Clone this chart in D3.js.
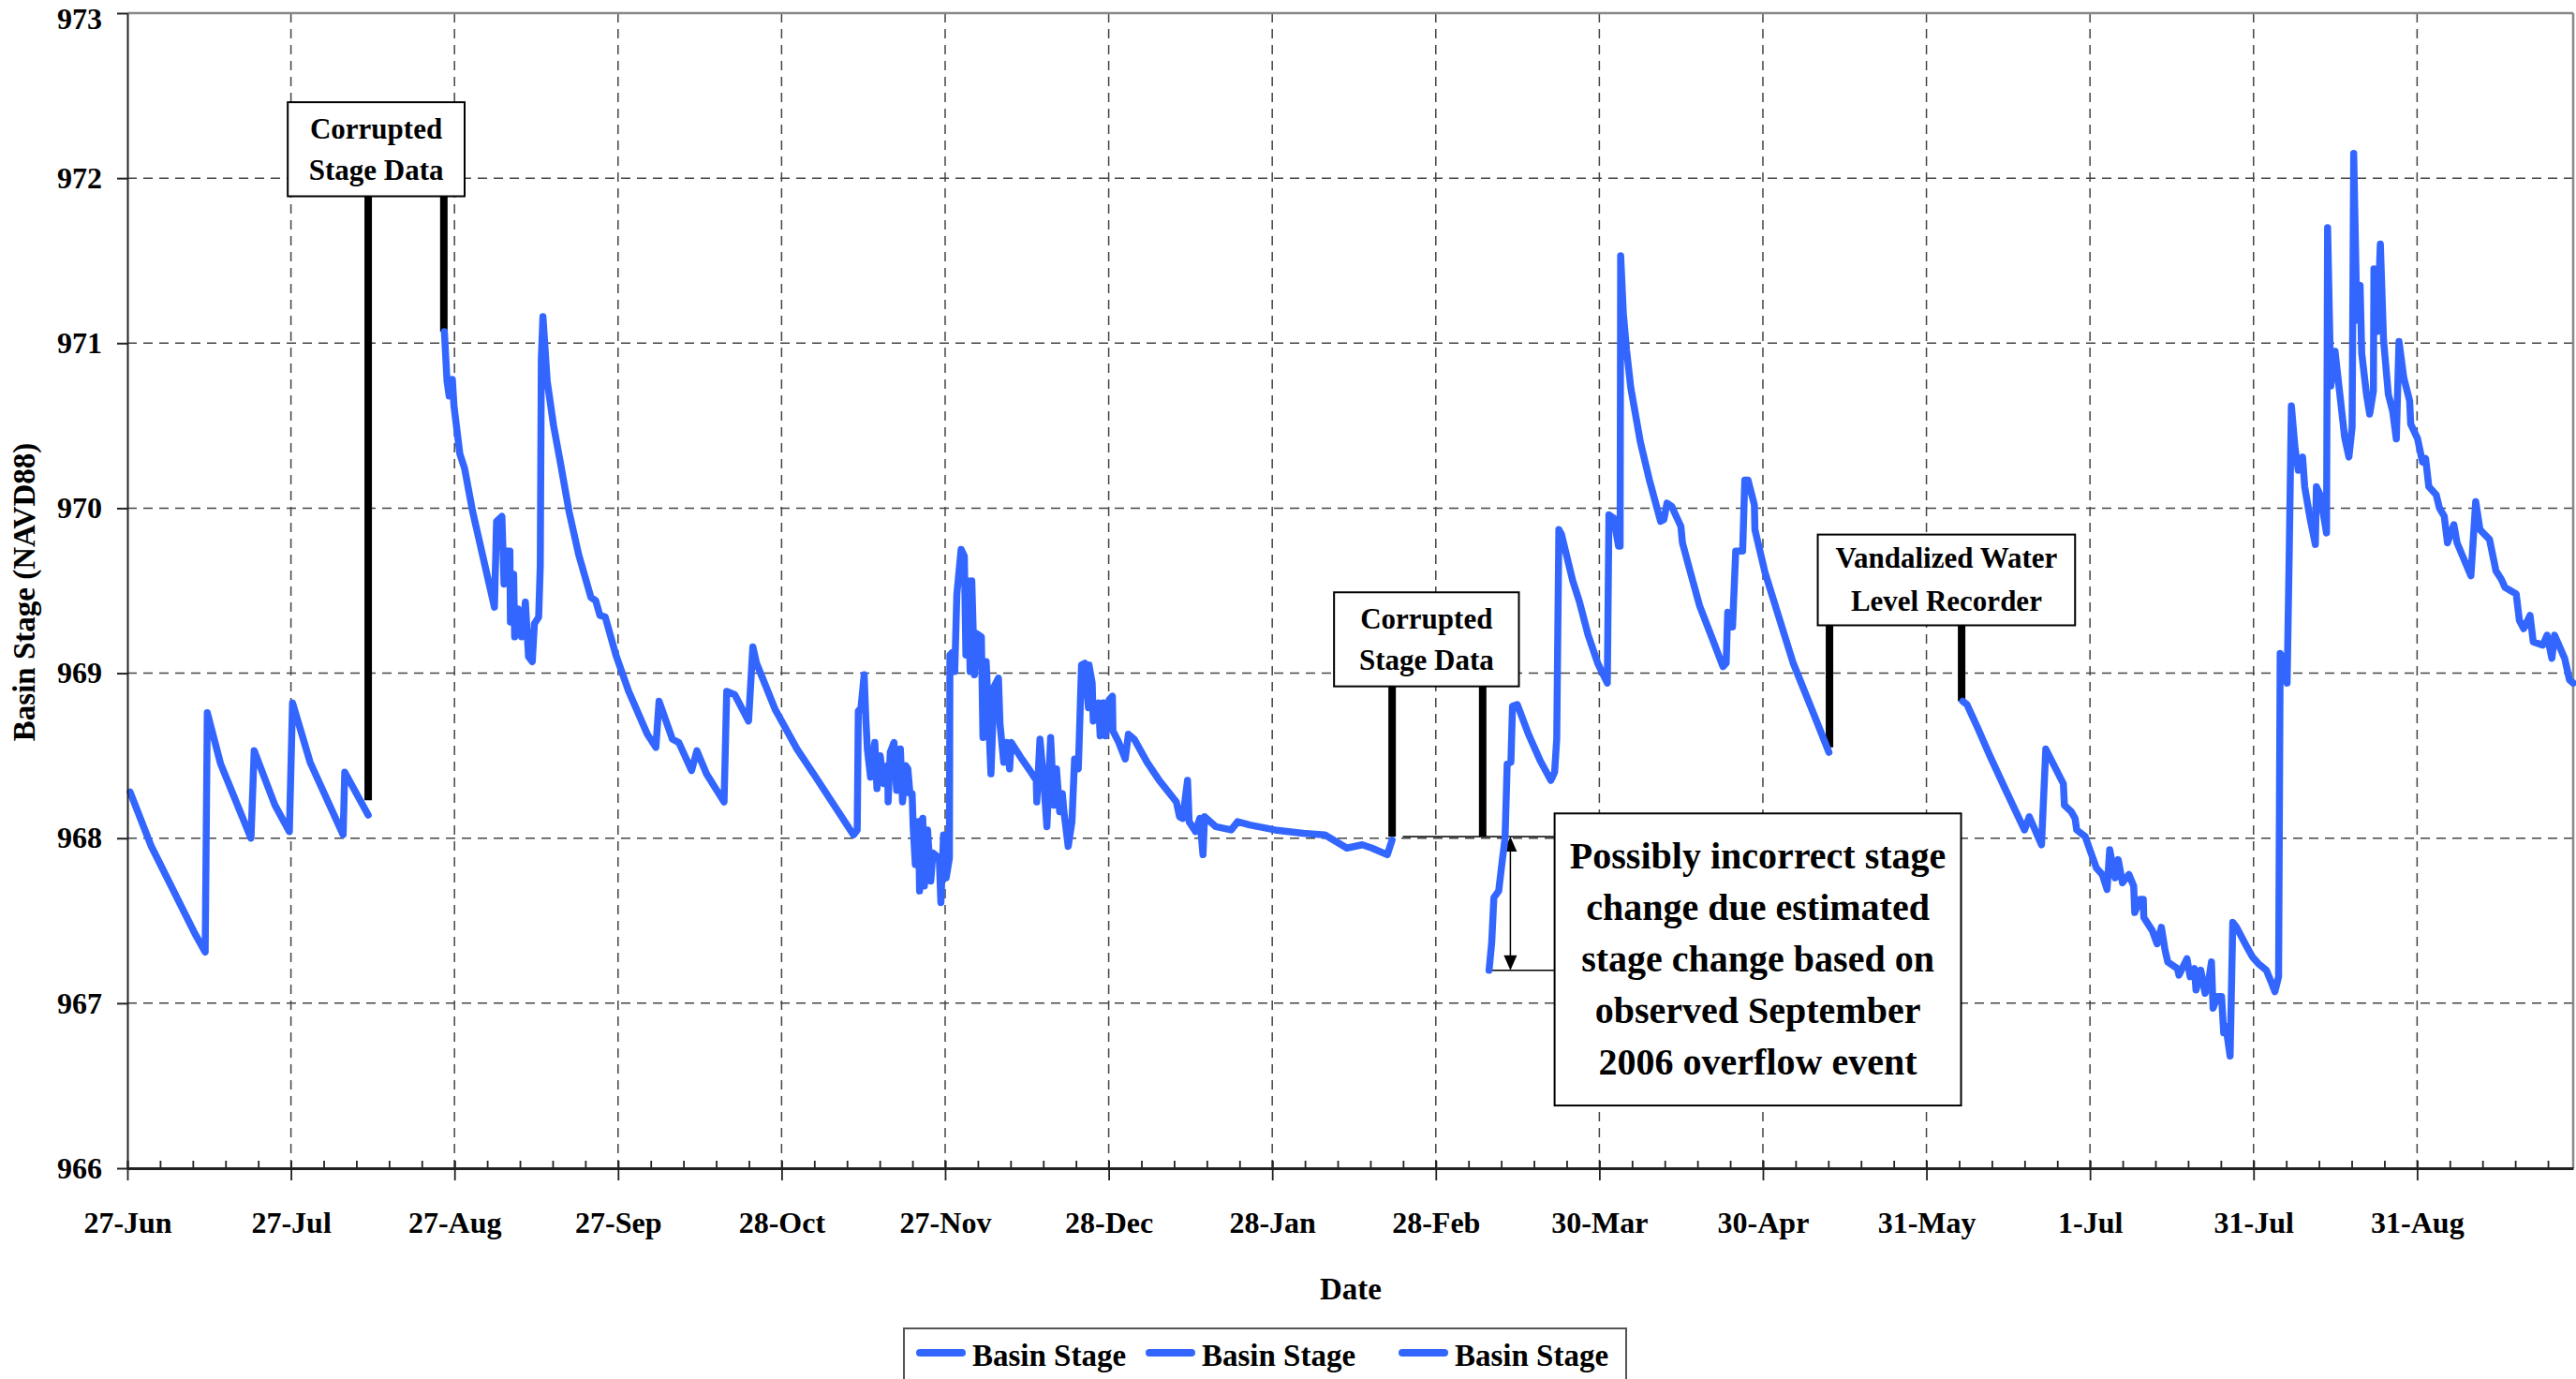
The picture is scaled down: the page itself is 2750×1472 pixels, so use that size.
<!DOCTYPE html>
<html>
<head>
<meta charset="utf-8">
<script src="https://cdn.jsdelivr.net/npm/d3@7"></script>
<style>
  body { margin: 0; background: #fff; }
  svg text { font-family: "Liberation Serif", "Times New Roman", serif; font-weight: bold; fill: #000; }
</style>
</head>
<body>
<div id="chart"></div>
<script>
// x values are days after 27-Jun-2006, y values are basin stage (ft, NAVD88)
var tickStep = 30.7;
var dayMax = 459.1;
var tickLabels = ['27-Jun', '27-Jul', '27-Aug', '27-Sep', '28-Oct', '27-Nov', '28-Dec', '28-Jan',
                  '28-Feb', '30-Mar', '30-Apr', '31-May', '1-Jul', '31-Jul', '31-Aug'];
var stageTicks = [966, 967, 968, 969, 970, 971, 972, 973];
var legendLabels = ['Basin Stage', 'Basin Stage', 'Basin Stage'];

var stage1 = [[0.5, 968.28], [4.5, 967.95], [12.7, 967.42], [14.6, 967.31], [15.0, 968.76], [17.5, 968.45],
  [23.2, 968.00], [23.8, 968.53], [27.7, 968.20], [30.4, 968.04], [31.0, 968.82], [34.3, 968.46],
  [40.5, 968.02], [40.8, 968.40], [45.2, 968.14]];

var stage2 = [[59.5, 971.07], [60.0, 970.77], [60.4, 970.68], [61.0, 970.78], [61.3, 970.62], [62.4, 970.33],
  [63.3, 970.24], [64.8, 969.98], [68.9, 969.40], [69.3, 969.92], [70.3, 969.95], [70.7, 969.54],
  [71.1, 969.74], [71.8, 969.74], [71.9, 969.31], [72.5, 969.60], [72.7, 969.22], [73.3, 969.39],
  [74.0, 969.22], [74.7, 969.43], [75.3, 969.10], [76.0, 969.07], [76.4, 969.30], [77.2, 969.34],
  [77.5, 969.65], [77.7, 970.90], [78.0, 971.16], [78.8, 970.77], [80.0, 970.50], [81.2, 970.29],
  [82.9, 969.98], [84.7, 969.72], [87.0, 969.46], [87.9, 969.44], [88.7, 969.35], [89.7, 969.34],
  [91.7, 969.11], [94.1, 968.89], [97.6, 968.63], [99.2, 968.55], [99.8, 968.83], [102.3, 968.60],
  [103.5, 968.58], [105.9, 968.41], [106.9, 968.53], [108.7, 968.39], [112.0, 968.22], [112.5, 968.89],
  [114.0, 968.87], [116.6, 968.71], [117.4, 969.16], [118.1, 969.06], [121.6, 968.78], [125.7, 968.54],
  [129.2, 968.37], [136.3, 968.02], [137.0, 968.05], [137.2, 968.77], [137.7, 968.79], [138.3, 968.99],
  [138.6, 968.73], [138.9, 968.54], [139.5, 968.37], [140.3, 968.58], [140.7, 968.30], [141.3, 968.50],
  [142.0, 968.33], [142.7, 968.44], [142.8, 968.22], [143.2, 968.52], [143.9, 968.58], [144.4, 968.29],
  [145.1, 968.54], [145.5, 968.22], [146.1, 968.44], [146.5, 968.42], [146.9, 968.27], [147.3, 968.27],
  [147.5, 968.07], [147.9, 967.84], [148.5, 968.10], [148.7, 967.68], [149.3, 968.12], [149.6, 967.71],
  [150.2, 968.05], [150.8, 967.74], [151.2, 967.91], [152.4, 967.88], [152.7, 967.61], [153.2, 968.02],
  [153.7, 967.76], [154.3, 967.88], [154.4, 969.11], [155.0, 969.13], [155.3, 969.01], [155.7, 969.48],
  [156.5, 969.75], [157.1, 969.71], [157.4, 969.11], [157.8, 969.56], [158.2, 969.01], [158.5, 969.56],
  [159.0, 968.99], [159.4, 969.24], [160.3, 969.22], [160.6, 968.61], [161.2, 969.07], [162.1, 968.39],
  [162.7, 968.92], [163.5, 968.97], [163.8, 968.69], [164.5, 968.46], [165.1, 968.58], [165.6, 968.42],
  [165.9, 968.58], [167.9, 968.48], [169.4, 968.41], [170.6, 968.35], [170.7, 968.22], [171.3, 968.60],
  [172.0, 968.35], [172.6, 968.07], [173.3, 968.61], [173.9, 968.20], [174.4, 968.42], [175.0, 968.16],
  [175.5, 968.27], [175.8, 968.16], [176.6, 967.95], [177.3, 968.10], [177.8, 968.48], [178.5, 968.42],
  [178.8, 968.73], [179.1, 969.05], [179.7, 969.06], [180.4, 968.79], [180.5, 969.05], [181.1, 968.94],
  [181.3, 968.71], [182.3, 968.82], [182.6, 968.62], [183.2, 968.82], [183.6, 968.62], [184.3, 968.84],
  [184.9, 968.86], [185.0, 968.65], [186.1, 968.58], [187.3, 968.48], [187.9, 968.63], [189.0, 968.60],
  [191.4, 968.46], [193.7, 968.35], [196.9, 968.22], [197.5, 968.13], [198.1, 968.12], [199.0, 968.35],
  [199.3, 968.10], [200.5, 968.04], [201.3, 968.12], [201.9, 967.90], [202.2, 968.13], [204.3, 968.07],
  [207.2, 968.05], [208.4, 968.10], [210.7, 968.08], [215.4, 968.05], [220.7, 968.03], [224.8, 968.02],
  [228.9, 967.94], [231.8, 967.96], [233.6, 967.94], [236.5, 967.90], [237.4, 967.99]];

// third series has a gap (null) where the recorder was vandalized
var stage3 = [[255.6, 967.20], [256.1, 967.37], [256.5, 967.64], [257.4, 967.68], [258.1, 967.87],
  [258.6, 968.00], [259.0, 968.45], [259.7, 968.46], [260.0, 968.80], [260.9, 968.81], [263.0, 968.63],
  [265.2, 968.47], [267.2, 968.35], [267.9, 968.40], [268.3, 968.60], [268.7, 969.87], [269.2, 969.84],
  [271.3, 969.56], [272.5, 969.44], [274.2, 969.23], [276.0, 969.06], [277.8, 968.94], [278.1, 969.96],
  [279.0, 969.94], [279.9, 969.77], [280.2, 969.77], [280.3, 971.53], [280.8, 971.18], [281.4, 970.96],
  [282.2, 970.73], [284.0, 970.40], [285.7, 970.17], [287.8, 969.92], [288.4, 969.93], [289.0, 970.03],
  [289.9, 970.01], [290.6, 969.96], [291.6, 969.89], [291.9, 969.79], [293.4, 969.61], [295.1, 969.41],
  [297.5, 969.21], [299.5, 969.04], [300.1, 969.06], [300.4, 969.37], [301.3, 969.28], [301.9, 969.74],
  [303.2, 969.74], [303.6, 970.17], [304.2, 970.17], [305.4, 970.02], [305.5, 969.87], [307.4, 969.61],
  [309.8, 969.36], [312.7, 969.06], [316.2, 968.78], [319.4, 968.52],
  null,
  [344.5, 968.83], [345.3, 968.81], [347.3, 968.67], [349.6, 968.50], [352.6, 968.29], [356.1, 968.05],
  [357.0, 968.13], [359.3, 967.96], [360.1, 968.54], [363.4, 968.33], [363.6, 968.20], [364.9, 968.16],
  [365.6, 968.12], [365.9, 968.05], [367.5, 968.01], [368.7, 967.90], [369.6, 967.82], [370.7, 967.78],
  [371.6, 967.69], [372.1, 967.93], [373.1, 967.76], [373.7, 967.87], [374.5, 967.73], [375.7, 967.78],
  [376.6, 967.71], [376.8, 967.55], [377.8, 967.63], [378.4, 967.63], [378.5, 967.52], [380.1, 967.44],
  [381.0, 967.36], [381.8, 967.46], [382.5, 967.32], [383.0, 967.25], [384.8, 967.21], [385.1, 967.17],
  [386.6, 967.27], [387.2, 967.16], [388.0, 967.21], [388.3, 967.08], [389.2, 967.20], [390.0, 967.06],
  [390.5, 967.10], [391.2, 967.25], [391.5, 966.97], [392.3, 967.04], [393.1, 967.04], [393.5, 966.82],
  [393.9, 966.86], [394.7, 966.68], [395.2, 967.49], [395.9, 967.46], [397.7, 967.35], [398.9, 967.28],
  [400.0, 967.24], [401.5, 967.20], [402.4, 967.13], [403.1, 967.07], [403.8, 967.16], [404.1, 969.12],
  [404.7, 969.09], [405.4, 968.94], [405.8, 969.73], [406.2, 970.62], [406.9, 970.36], [407.5, 970.23],
  [408.3, 970.31], [408.7, 970.13], [409.7, 969.94], [410.7, 969.78], [410.9, 970.13], [411.6, 970.08],
  [412.8, 969.85], [413.0, 971.70], [413.6, 970.74], [414.4, 970.95], [415.3, 970.69], [416.2, 970.43],
  [417.0, 970.31], [417.6, 970.49], [417.9, 972.15], [418.5, 971.14], [419.1, 971.35], [419.4, 970.94],
  [420.3, 970.69], [420.9, 970.57], [421.6, 970.71], [421.7, 971.45], [422.3, 971.07], [422.9, 971.60],
  [423.5, 971.02], [424.4, 970.69], [425.2, 970.59], [425.9, 970.42], [426.4, 971.01], [427.3, 970.79],
  [428.4, 970.65], [428.6, 970.51], [429.9, 970.42], [430.8, 970.28], [431.4, 970.30], [432.0, 970.13],
  [433.4, 970.08], [434.0, 970.00], [434.9, 969.95], [435.5, 969.79], [436.7, 969.90], [437.3, 969.79],
  [439.9, 969.59], [440.8, 970.04], [441.6, 969.87], [443.4, 969.81], [444.6, 969.62], [445.6, 969.57],
  [446.3, 969.52], [448.4, 969.48], [449.0, 969.32], [449.8, 969.27], [451.0, 969.35], [451.6, 969.19],
  [453.4, 969.17], [454.2, 969.23], [455.1, 969.09], [455.6, 969.23], [457.5, 969.09], [458.4, 968.96],
  [459.1, 968.94]];

// annotation boxes: extent in (day, stage) units, bars drop from the box to a stage value
var notes = [
  {lines: ['Corrupted', 'Stage Data'], x0: 30.1, x1: 63.3, top: 972.46, bottom: 971.89, size: 31, lh: 44,
   bars: [[45.2, 968.23], [59.4, 971.07]]},
  {lines: ['Corrupted', 'Stage Data'], x0: 226.5, x1: 261.2, top: 969.49, bottom: 968.92, size: 31, lh: 44,
   bars: [[237.4, 968.01], [254.4, 968.01]]},
  {lines: ['Vandalized Water', 'Level Recorder'], x0: 317.3, x1: 365.6, top: 969.84, bottom: 969.29, size: 31, lh: 46,
   bars: [[319.5, 968.55], [344.3, 968.83]]},
  {lines: ['Possibly incorrect stage', 'change due estimated', 'stage change based on',
           'observed September', '2006 overflow event'], x0: 267.9, x1: 344.2, top: 968.15, bottom: 966.38,
   size: 40, lh: 55, bars: []}
];

document.addEventListener('DOMContentLoaded', function(e) {
  var width = 2750, height = 1472;
  var blue = '#3366ff';

  var svg = d3.select('#chart')
              .append('svg')
              .attr('width', width)
              .attr('height', height);

  var x = d3.scaleLinear().domain([0, dayMax]).range([136, 2747]);
  var y = d3.scaleLinear().domain([966, 973]).range([1247, 14]);

  var majorDays = tickLabels.map(function(d, i) { return i * tickStep; });
  var minorDays = d3.range(0, dayMax, tickStep / 5);

  // gridlines
  var grid = svg.append('g');
  grid.selectAll('.vgrid')
      .data(majorDays.slice(1))
      .enter().append('line')
      .attr('x1', function(d) { return x(d); })
      .attr('x2', function(d) { return x(d); })
      .attr('y1', y(973)).attr('y2', y(966))
      .attr('stroke', '#444').attr('stroke-width', 1.5)
      .attr('stroke-dasharray', '10,7');
  grid.selectAll('.hgrid')
      .data(stageTicks.slice(1, -1))
      .enter().append('line')
      .attr('x1', x(0)).attr('x2', x(dayMax))
      .attr('y1', function(d) { return y(d); })
      .attr('y2', function(d) { return y(d); })
      .attr('stroke', '#444').attr('stroke-width', 1.5)
      .attr('stroke-dasharray', '10,7');

  // plot area border (top and right)
  svg.append('line').attr('x1', x(0)).attr('x2', x(dayMax)).attr('y1', y(973)).attr('y2', y(973))
     .attr('stroke', '#888').attr('stroke-width', 2.5);
  svg.append('line').attr('x1', x(dayMax)).attr('x2', x(dayMax)).attr('y1', y(973)).attr('y2', y(966))
     .attr('stroke', '#888').attr('stroke-width', 2.5);

  // annotation bars and thin guide lines (drawn under the boxes)
  var ann = svg.append('g');
  notes.forEach(function(n) {
    n.bars.forEach(function(b) {
      ann.append('line')
         .attr('x1', x(b[0])).attr('x2', x(b[0]))
         .attr('y1', y(n.bottom)).attr('y2', y(b[1]))
         .attr('stroke', '#000').attr('stroke-width', 8);
    });
  });

  // estimated stage change marker
  var estTop = 968.01, estBottom = 967.20, estDay = 259.6;
  ann.append('line').attr('x1', x(239.4)).attr('x2', x(267.9)).attr('y1', y(estTop)).attr('y2', y(estTop))
     .attr('stroke', '#000').attr('stroke-width', 1.5);
  ann.append('line').attr('x1', x(255.5)).attr('x2', x(267.9)).attr('y1', y(estBottom)).attr('y2', y(estBottom))
     .attr('stroke', '#000').attr('stroke-width', 1.5);
  ann.append('line').attr('x1', x(estDay)).attr('x2', x(estDay)).attr('y1', y(estTop) + 14).attr('y2', y(estBottom) - 14)
     .attr('stroke', '#000').attr('stroke-width', 1.5);
  var ax = x(estDay);
  ann.append('path')
     .attr('d', 'M' + ax + ',' + y(estTop) + 'l-7,16h14z')
     .attr('fill', '#000');
  ann.append('path')
     .attr('d', 'M' + ax + ',' + y(estBottom) + 'l-7,-16h14z')
     .attr('fill', '#000');

  // stage lines
  var line = d3.line()
               .defined(function(d) { return d !== null; })
               .x(function(d) { return x(d[0]); })
               .y(function(d) { return y(d[1]); });

  svg.selectAll('.stage')
     .data([stage1, stage2, stage3])
     .enter().append('path')
     .attr('d', line)
     .attr('fill', 'none')
     .attr('stroke', blue)
     .attr('stroke-width', 7.5)
     .attr('stroke-linejoin', 'round')
     .attr('stroke-linecap', 'round');

  // annotation boxes
  notes.forEach(function(n) {
    var bx = x(n.x0), by = y(n.top), bw = x(n.x1) - x(n.x0), bh = y(n.bottom) - y(n.top);
    ann.append('rect')
       .attr('x', bx).attr('y', by).attr('width', bw).attr('height', bh)
       .attr('fill', '#fff').attr('stroke', '#000').attr('stroke-width', 2);
    var cy = by + bh / 2;
    n.lines.forEach(function(t, i) {
      svg.append('text')
         .attr('x', bx + bw / 2)
         .attr('y', cy + (i - (n.lines.length - 1) / 2) * n.lh + n.size * 0.33)
         .attr('text-anchor', 'middle')
         .style('font-size', n.size + 'px')
         .text(t);
    });
  });

  // y axis
  var yAxis = svg.append('g')
                 .attr('transform', 'translate(' + x(0) + ',0)')
                 .call(d3.axisLeft(y).tickValues(stageTicks).tickFormat(d3.format('d'))
                         .tickSize(11).tickSizeOuter(0).tickPadding(16));
  yAxis.select('.domain').attr('stroke', '#222').attr('stroke-width', 2);
  yAxis.selectAll('.tick line').attr('stroke', '#222').attr('stroke-width', 2);
  yAxis.selectAll('text').style('font-size', '32px').attr('font-family', null);
  // keep the top label inside the picture
  yAxis.selectAll('text').filter(function(d) { return d === 973; }).attr('dy', '0.52em');

  // x axis: minor ticks inside, major ticks crossing
  var xMinor = svg.append('g')
                  .attr('transform', 'translate(0,' + y(966) + ')')
                  .call(d3.axisBottom(x).tickValues(minorDays).tickSize(-8).tickSizeOuter(0).tickFormat(''));
  xMinor.select('.domain').remove();
  xMinor.selectAll('.tick line').attr('stroke', '#222').attr('stroke-width', 1.8);

  var xAxis = svg.append('g')
                 .attr('transform', 'translate(0,' + y(966) + ')')
                 .call(d3.axisBottom(x).tickValues(majorDays)
                         .tickFormat(function(d, i) { return tickLabels[i]; })
                         .tickSize(13).tickSizeOuter(0));
  xAxis.select('.domain').attr('stroke', '#222').attr('stroke-width', 3);
  xAxis.selectAll('.tick line').attr('y1', -8).attr('stroke', '#222').attr('stroke-width', 1.8);
  xAxis.selectAll('text').attr('y', 69).attr('dy', null).style('font-size', '32px');

  // axis titles
  svg.append('text')
     .attr('x', 1442).attr('y', 1387)
     .attr('text-anchor', 'middle')
     .style('font-size', '33px')
     .text('Date');
  svg.append('text')
     .attr('transform', 'translate(37,632) rotate(-90)')
     .attr('text-anchor', 'middle')
     .style('font-size', '33px')
     .text('Basin Stage (NAVD88)');

  // legend
  var legend = svg.append('g');
  legend.append('rect')
        .attr('x', 965).attr('y', 1418).attr('width', 771).attr('height', 90)
        .attr('fill', '#fff').attr('stroke', '#555').attr('stroke-width', 2);
  var legendX = [978, 1223, 1493];
  legendLabels.forEach(function(t, i) {
    legend.append('line')
          .attr('x1', legendX[i] + 4).attr('x2', legendX[i] + 49)
          .attr('y1', 1444).attr('y2', 1444)
          .attr('stroke', blue).attr('stroke-width', 8).attr('stroke-linecap', 'round');
    legend.append('text')
          .attr('x', legendX[i] + 60).attr('y', 1458)
          .style('font-size', '33px')
          .text(t);
  });
});
</script>
</body>
</html>
